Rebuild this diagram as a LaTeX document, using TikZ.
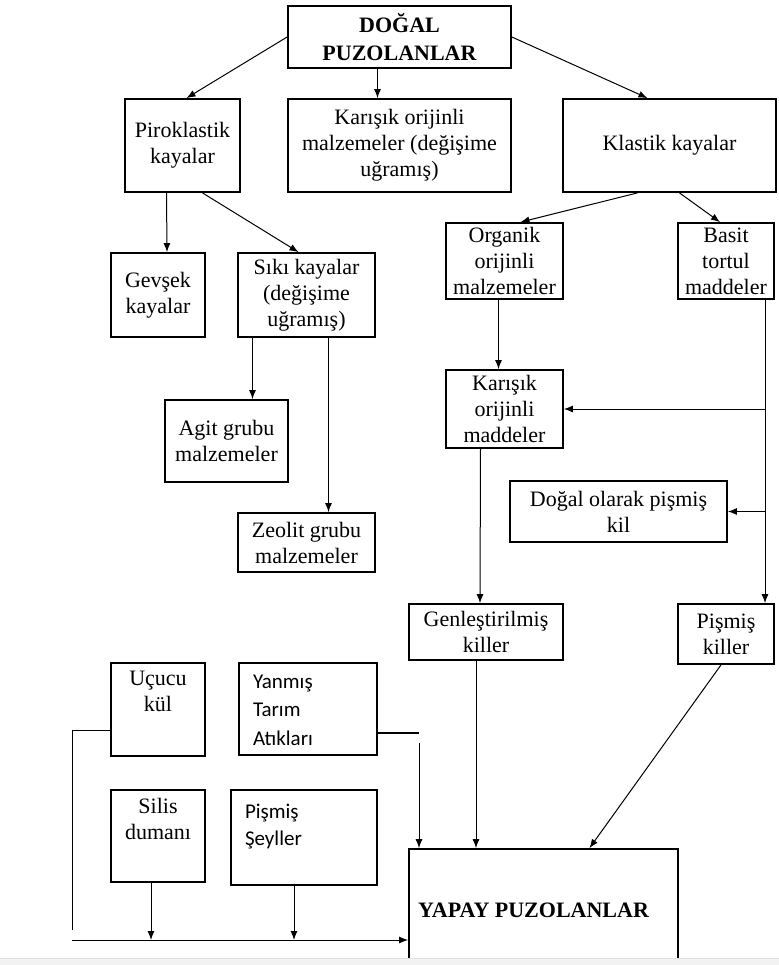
\documentclass[tikz,border=0pt]{standalone}
\usepackage{fontspec}
\setmainfont{Liberation Serif}
\newfontfamily\calibri{Carlito}
\usetikzlibrary{arrows.meta}
\tikzset{
  box/.style={draw, line width=0.9pt, align=center, inner sep=0.5pt, font=\fontsize{11}{13}\selectfont},
  topbox/.style={box, inner sep=0pt},
  arr/.style={-{Latex[length=4.5pt,width=3.5pt]}, line width=0.5pt},
  lnk/.style={line width=0.5pt},
}
\newcommand{\toptext}[3]{\parbox[c][#1][t]{#2}{#3}}
\begin{document}
\begin{tikzpicture}[x=0.5pt,y=-0.5pt]
\useasboundingbox (0,0) rectangle (779,965);
% first row
\node[box, minimum width=111.5pt, minimum height=31pt, font=\fontsize{11}{14}\selectfont\bfseries] (dogal) at (399.5,37) {DOĞAL\\PUZOLANLAR};
\node[box, minimum width=57.5pt, minimum height=46.5pt] (piro) at (182.5,145.5) {Piroklastik\\kayalar};
\node[box, minimum width=111.5pt, minimum height=46.5pt] (karisik1) at (399.5,145.5) {Karışık orijinli\\malzemeler (değişime\\uğramış)};
\node[box, minimum width=106.5pt, minimum height=46.5pt] (klastik) at (669.5,145.5) {Klastik kayalar};
% second row
\node[box, minimum width=47pt, minimum height=42pt] (gevsek) at (158,295) {Gevşek\\kayalar};
\node[box, minimum width=68.5pt, minimum height=42pt] (siki) at (306.5,295) {Sıkı kayalar\\(değişime\\uğramış)};
\node[box, minimum width=58.5pt, minimum height=38pt] (organik) at (504.5,261) {Organik\\orijinli\\malzemeler};
\node[box, minimum width=48pt, minimum height=38pt] (basit) at (726,261) {Basit\\tortul\\maddeler};
% third row
\node[box, minimum width=61.5pt, minimum height=41pt] (agit) at (226.5,441) {Agit grubu\\malzemeler};
\node[box, minimum width=58.5pt, minimum height=39pt] (karisik2) at (504.5,409) {Karışık\\orijinli\\maddeler};
\node[box, minimum width=108.5pt, minimum height=30.5pt] (pismiskil) at (618.5,511.5) {Doğal olarak pişmiş\\kil};
\node[box, minimum width=68.5pt, minimum height=29.5pt] (zeolit) at (306.5,542.5) {Zeolit grubu\\malzemeler};
\node[box, minimum width=77pt, minimum height=28pt] (genles) at (486,632) {Genleştirilmiş\\killer};
\node[box, minimum width=48pt, minimum height=30pt] (pkiller) at (726,634) {Pişmiş\\killer};
% artificial ones
\node[topbox, minimum width=47pt, minimum height=46.5pt] (ucucu) at (158,709.5) {\toptext{38pt}{45pt}{\centering Uçucu\\kül}};
\node[topbox, minimum width=69pt, minimum height=46pt] (yanmis) at (308,709) {\toptext{34pt}{55pt}{\raggedright\calibri\fontsize{10.5}{14.25}\selectfont Yanmış\\Tarım\\Atıkları}};
\node[topbox, minimum width=47pt, minimum height=46pt] (silis) at (158,836) {\toptext{38pt}{45pt}{\centering Silis\\dumanı}};
\node[topbox, minimum width=73pt, minimum height=47.5pt] (seyl) at (304,837.5) {\toptext{33pt}{59pt}{\raggedright\calibri\fontsize{10.5}{13.5}\selectfont Pişmiş\\Şeyller}};
\node[box, minimum width=134.5pt, minimum height=61.5pt, font=\fontsize{11}{13}\selectfont\bfseries] (yapay) at (543.5,910.5) {\hspace*{-10pt}YAPAY PUZOLANLAR};
% connectors
\draw[arr] (dogal.west) -- ([xshift=2pt]piro.north);
\draw[arr] ([xshift=-11pt]dogal.south) -- ([xshift=-11pt]karisik1.north);
\draw[arr] (dogal.east) -- ([xshift=-11pt]klastik.north);
\draw[arr] ([xshift=-16pt]klastik.south) -- ([xshift=8pt]organik.north);
\draw[arr] ([xshift=5pt]klastik.south) -- ([xshift=-3pt]basit.north);
\draw[arr] ([xshift=-8pt]piro.south) -- ([xshift=4.5pt]gevsek.north);
\draw[arr] ([xshift=10pt]piro.south) -- ([xshift=-4pt]siki.north);
\draw[arr] ([xshift=-27pt]siki.south) -- ([xshift=13pt]agit.north);
\draw[arr] ([xshift=11pt]siki.south) -- ([xshift=11pt]zeolit.north);
\draw[arr] ([xshift=-3pt]organik.south) -- ([xshift=-3pt]karisik2.north);
\coordinate (trunk) at ([xshift=19.5pt]basit.south);
\draw[arr] (trunk) -- (trunk |- pkiller.north);
\draw[arr] (trunk |- karisik2.east) -- (karisik2.east);
\draw[arr] (trunk |- pismiskil.east) -- (pismiskil.east);
\draw[arr] ([xshift=-12pt]karisik2.south) -- ([xshift=-3pt]genles.north);
\draw[arr] ([xshift=-5pt]genles.south) -- ([xshift=-33.75pt]yapay.north);
\draw[arr] ([xshift=-2.5pt]pkiller.south) -- ([xshift=23pt]yapay.north);
% left bus
\coordinate (lc) at (72,930);
\coordinate (bus) at (72,940);
\draw[lnk] ([yshift=-10.5pt]ucucu.west) -| (lc);
\draw[arr] (bus) -- (bus -| yapay.west);
\coordinate (s1) at ([xshift=-3.5pt]silis.south);
\coordinate (s2) at ([xshift=-5pt]seyl.south);
\draw[arr] (s1) -- (s1 |- bus);
\draw[arr] (s2) -- (s2 |- bus);
\coordinate (ry) at (419,733);
\coordinate (rv) at (419,743);
\draw[line width=0.9pt] ([yshift=-12pt]yanmis.east) -- (ry);
\draw[arr] (rv) -- (rv |- yapay.north);
% page edge
\fill[gray!10] (0,958) rectangle (779,965);
\draw[gray!25] (0,958) -- (779,958);
\end{tikzpicture}
\end{document}
